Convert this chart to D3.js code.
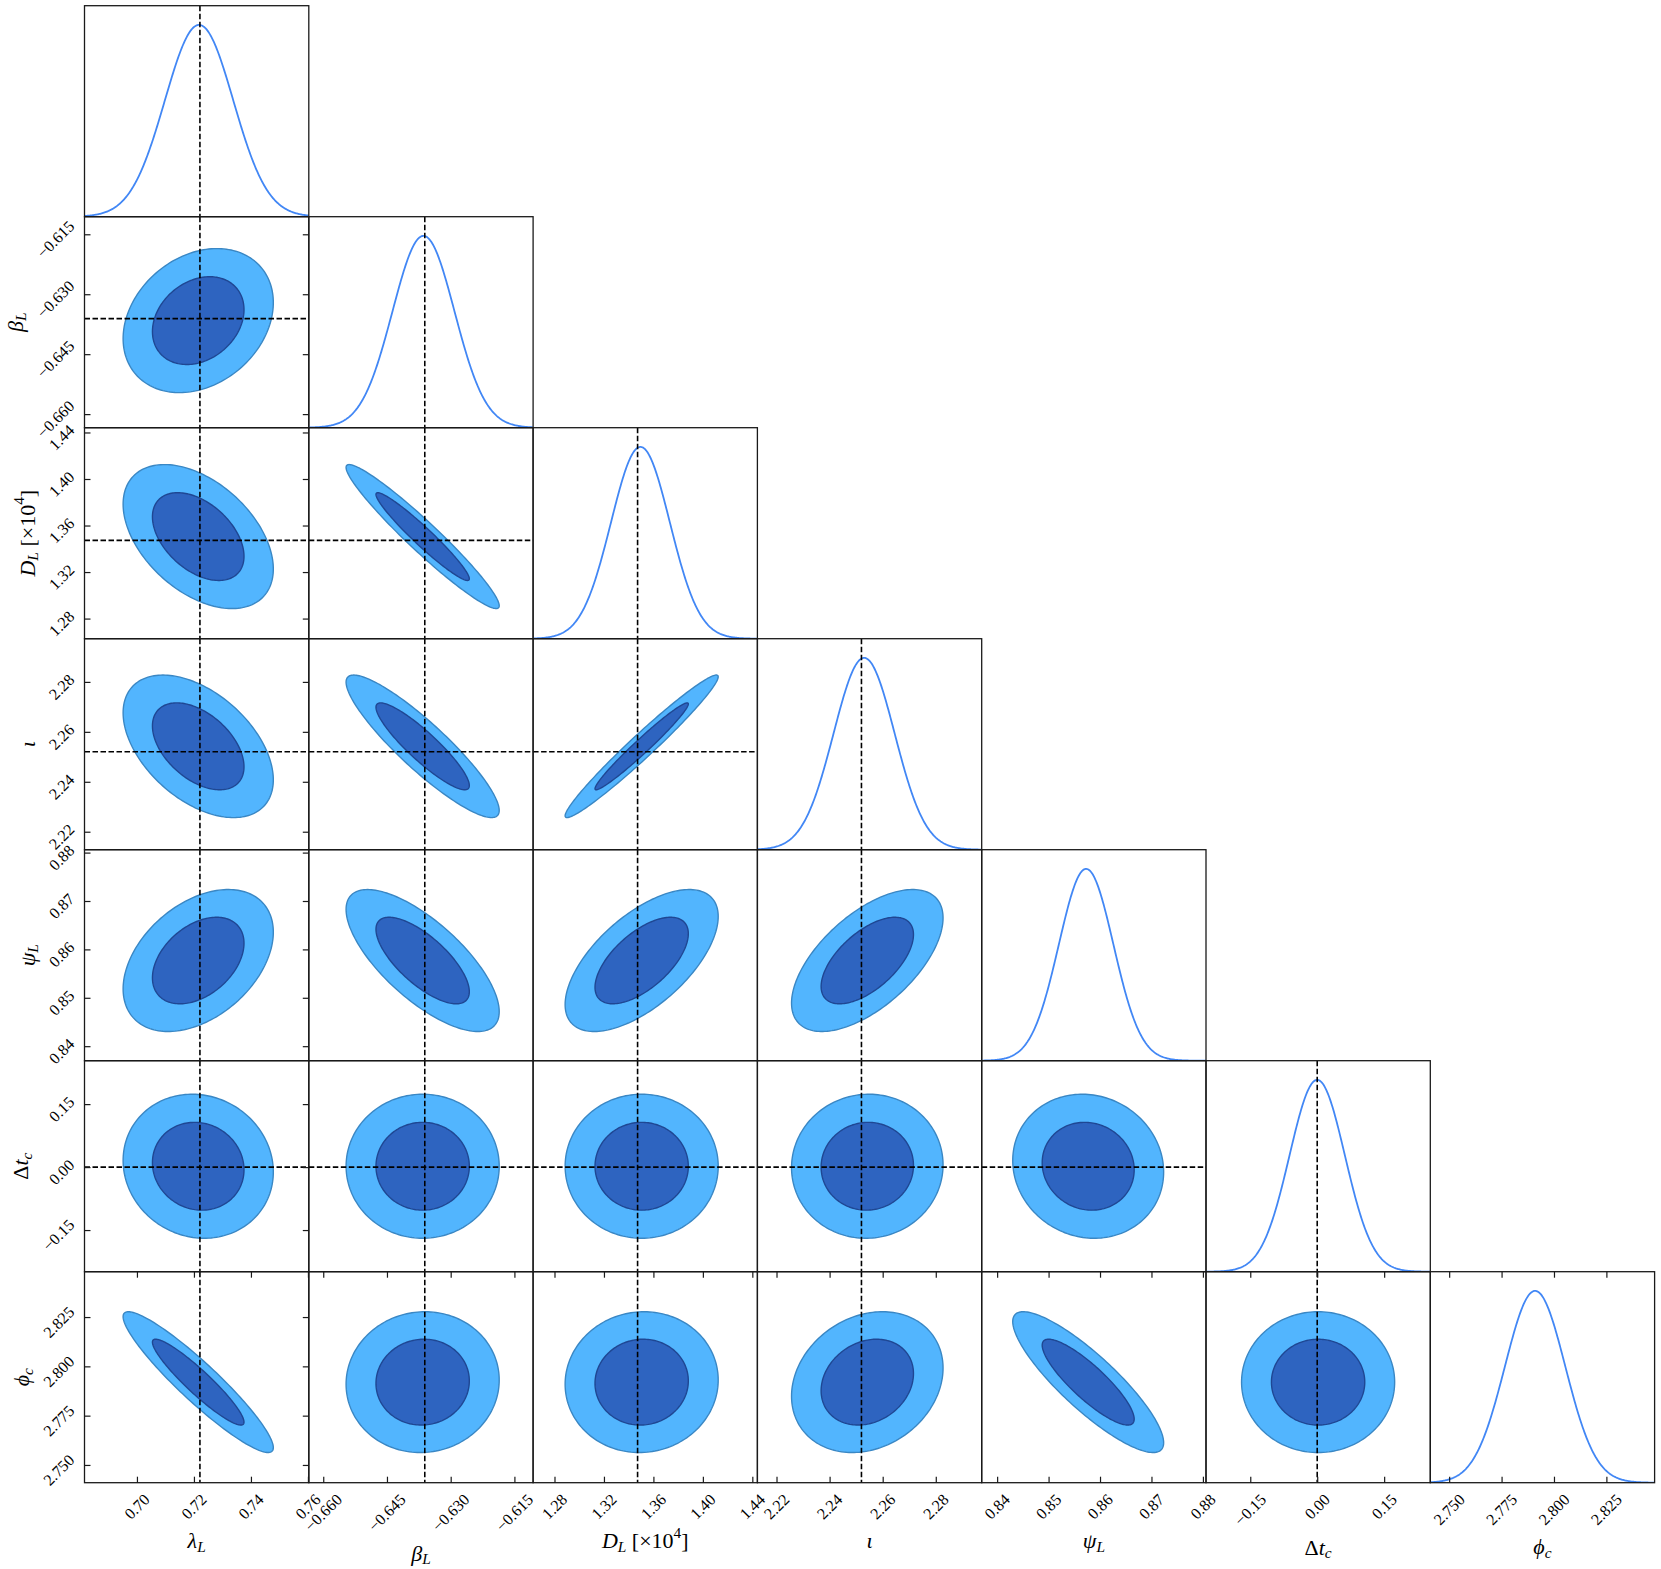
<!DOCTYPE html>
<html lang="en">
<head>
<meta charset="UTF-8" />
<title>Corner plot</title>
<script src="https://cdnjs.cloudflare.com/ajax/libs/d3/7.8.5/d3.min.js"></script>
<style>
  body { margin: 0; background: #fff; }
  text { font-family: "Liberation Serif", "DejaVu Serif", serif; fill: #000; }
</style>
</head>
<body>
<div id="corner"></div>
<script>
// parameter summaries
var paramNames = ['lambda_L', 'beta_L', 'D_L', 'iota', 'psi_L', 'dt_c', 'phi_c'];
var means = [0.7215, -0.6366, 1.3505, 2.2542, 0.8577, 0.002, 2.7920];
var peaks = [0.7218, -0.6364, 1.3495, 2.2530, 0.8573, 0.000, 2.7910];
var contourSd = [0.0106, 0.00725, 0.0249, 0.01148, 0.0059, 0.069, 0.01436];
var marginalSd = [0.0120, 0.0073, 0.0238, 0.0115, 0.0053, 0.062, 0.0144];
// correlation of row parameter i with column parameter j (j < i)
var corr = [
    [],
    [0.25],
    [-0.45, -0.96],
    [-0.47, -0.90, 0.975],
    [0.40, -0.72, 0.62, 0.60],
    [-0.08, 0.0, 0.0, 0.02, -0.08],
    [-0.93, 0.03, 0.03, 0.20, -0.86, 0.0]
];
var truths = [0.7221, -0.6361, 1.3472, 2.2520, null, 0.0, null];
var domains = [
    [0.6816, 0.7603], [-0.6634, -0.6106], [1.2627, 1.4441], [2.2128, 2.2973],
    [0.8370, 0.8806], [-0.2492, 0.2534], [2.7410, 2.8480]
];
var tickValues = [
    [0.70, 0.72, 0.74, 0.76],
    [-0.660, -0.645, -0.630, -0.615],
    [1.28, 1.32, 1.36, 1.40, 1.44],
    [2.22, 2.24, 2.26, 2.28],
    [0.84, 0.85, 0.86, 0.87, 0.88],
    [-0.15, 0.00, 0.15],
    [2.750, 2.775, 2.800, 2.825]
];
var tickDecimals = [2, 3, 2, 2, 2, 2, 3];
var levels = [0.9545, 0.6827];
// [text, italic, shift]
var axisLabels = [
    [['λ', 1, ''], ['L', 1, 'sub']],
    [['β', 1, ''], ['L', 1, 'sub']],
    [['D', 1, ''], ['L', 1, 'sub'], [' [×10', 0, ''], ['4', 0, 'sup'], [']', 0, '']],
    [['ι', 1, '']],
    [['ψ', 1, ''], ['L', 1, 'sub']],
    [['Δ', 0, ''], ['t', 1, ''], ['c', 1, 'sub']],
    [['ϕ', 1, ''], ['c', 1, 'sub']]
];

var n = paramNames.length;
var left0 = 84.5, top0 = 5.7, cellW = 224.3, cellH = 211.0;
var tickFont = 16, tickH = 0.7 * tickFont, labelFont = 22;

var svg = d3.select('#corner').append('svg')
    .attr('width', 1661)
    .attr('height', 1569);
var defs = svg.append('defs');

function cellX(j) { return left0 + j * cellW; }
function cellY(i) { return top0 + i * cellH; }

var xScales = domains.map(function (d, j) {
    return d3.scaleLinear().domain(d).range([cellX(j), cellX(j) + cellW]);
});
var yScales = domains.map(function (d, i) {
    return d3.scaleLinear().domain(d).range([cellY(i) + cellH, cellY(i)]);
});

var line = d3.line();
var closedLine = d3.line().curve(d3.curveLinearClosed);

function ellipse(i, j, level) {
    var r = Math.sqrt(-2 * Math.log(1 - level));
    var rho = corr[i][j];
    var sx = contourSd[j], sy = contourSd[i];
    var c = Math.sqrt(1 - rho * rho);
    return d3.range(0, 2 * Math.PI, Math.PI / 90).map(function (t) {
        var u = Math.cos(t), v = Math.sin(t);
        return [
            xScales[j](means[j] + sx * r * u),
            yScales[i](means[i] + sy * r * (rho * u + c * v))
        ];
    });
}

for (var i = 0; i < n; i++) {
    for (var j = 0; j <= i; j++) {
        var g = svg.append('g').attr('class', 'panel');
        var clipId = 'clip-' + i + '-' + j;
        defs.append('clipPath').attr('id', clipId)
            .append('rect')
            .attr('x', cellX(j)).attr('y', cellY(i))
            .attr('width', cellW).attr('height', cellH);
        var body = g.append('g').attr('clip-path', 'url(#' + clipId + ')');

        if (i === j) {
            var dens = d3.scaleLinear().domain([0, 1.1]).range([cellY(i) + cellH, cellY(i)]);
            var dom = domains[i];
            var pts = d3.range(0, 301).map(function (k) {
                var x = dom[0] + (dom[1] - dom[0]) * k / 300;
                var z = (x - peaks[i]) / marginalSd[i];
                return [xScales[i](x), dens(Math.exp(-0.5 * z * z))];
            });
            body.append('path')
                .attr('d', line(pts))
                .attr('fill', 'none')
                .attr('stroke', '#4287f5')
                .attr('stroke-width', 1.8);
        } else {
            body.append('path')
                .attr('d', closedLine(ellipse(i, j, levels[0])))
                .attr('fill', '#52b5fe')
                .attr('stroke', '#3a87c4')
                .attr('stroke-width', 1.4);
            body.append('path')
                .attr('d', closedLine(ellipse(i, j, levels[1])))
                .attr('fill', '#2e64c0')
                .attr('stroke', '#1f4793')
                .attr('stroke-width', 1.4);
        }

        // truth lines
        if (truths[j] !== null) {
            body.append('line')
                .attr('x1', xScales[j](truths[j])).attr('x2', xScales[j](truths[j]))
                .attr('y1', cellY(i)).attr('y2', cellY(i) + cellH)
                .attr('stroke', '#000').attr('stroke-width', 1.6)
                .attr('stroke-dasharray', '5.5,2.5');
        }
        if (i !== j && truths[i] !== null) {
            body.append('line')
                .attr('x1', cellX(j)).attr('x2', cellX(j) + cellW)
                .attr('y1', yScales[i](truths[i])).attr('y2', yScales[i](truths[i]))
                .attr('stroke', '#000').attr('stroke-width', 1.6)
                .attr('stroke-dasharray', '5.5,2.5');
        }

        g.append('rect')
            .attr('x', cellX(j)).attr('y', cellY(i))
            .attr('width', cellW).attr('height', cellH)
            .attr('fill', 'none')
            .attr('stroke', '#1a1a1a')
            .attr('stroke-width', 1.3);
    }
}

function fmt(v, dec) {
    var s = Math.abs(v) < 1e-12 ? (0).toFixed(dec) : v.toFixed(dec);
    return s.replace('-', '\u2212');
}

function styleAxis(sel) {
    sel.select('.domain').remove();
    sel.selectAll('line').attr('stroke', '#1a1a1a').attr('stroke-width', 1.2);
    sel.selectAll('text').remove();
}

// inward ticks: left column (y) and bottom row (x), on both sides
for (var r = 1; r < n; r++) {
    svg.append('g').attr('transform', 'translate(' + cellX(0) + ',0)')
        .call(d3.axisRight(yScales[r]).tickValues(tickValues[r]).tickSize(6).tickFormat(''))
        .call(styleAxis);
    svg.append('g').attr('transform', 'translate(' + (cellX(0) + cellW) + ',0)')
        .call(d3.axisLeft(yScales[r]).tickValues(tickValues[r]).tickSize(6).tickFormat(''))
        .call(styleAxis);
}
var bottomY = cellY(n - 1) + cellH;
for (var c = 0; c < n; c++) {
    svg.append('g').attr('transform', 'translate(0,' + bottomY + ')')
        .call(d3.axisTop(xScales[c]).tickValues(tickValues[c]).tickSize(6).tickFormat(''))
        .call(styleAxis);
    svg.append('g').attr('transform', 'translate(0,' + cellY(n - 1) + ')')
        .call(d3.axisBottom(xScales[c]).tickValues(tickValues[c]).tickSize(6).tickFormat(''))
        .call(styleAxis);
}

// rotated tick labels
var labelLayer = svg.append('g').attr('font-size', tickFont);
var colExtent = [], rowExtent = [];

for (var c2 = 0; c2 < n; c2++) {
    var maxHalf = 0;
    tickValues[c2].forEach(function (v) {
        var t = labelLayer.append('text')
            .attr('text-anchor', 'middle')
            .attr('dominant-baseline', 'central')
            .text(fmt(v, tickDecimals[c2]));
        var half = 0.354 * (t.node().getComputedTextLength() + tickH);
        maxHalf = Math.max(maxHalf, half);
        t.attr('transform', 'translate(' + xScales[c2](v) + ',' + (bottomY + 10 + half) + ') rotate(-45)');
    });
    colExtent.push(bottomY + 10 + 2 * maxHalf);
}

for (var r2 = 1; r2 < n; r2++) {
    var minLeft = cellX(0);
    tickValues[r2].forEach(function (v) {
        var t = labelLayer.append('text')
            .attr('text-anchor', 'middle')
            .attr('dominant-baseline', 'central')
            .text(fmt(v, tickDecimals[r2]));
        var half = 0.354 * (t.node().getComputedTextLength() + tickH);
        var cx = cellX(0) - 9 - half;
        minLeft = Math.min(minLeft, cx - half);
        t.attr('transform', 'translate(' + cx + ',' + (yScales[r2](v) + 5) + ') rotate(-45)');
    });
    rowExtent[r2] = minLeft;
}

function writeLabel(textSel, segs) {
    var level = 0;
    segs.forEach(function (s) {
        var target = s[2] === 'sub' ? 0.25 * labelFont : (s[2] === 'sup' ? -0.4 * labelFont : 0);
        var ts = textSel.append('tspan').text(s[0]);
        if (target - level !== 0) ts.attr('dy', target - level);
        if (s[1]) ts.attr('font-style', 'italic');
        if (s[2]) ts.attr('font-size', labelFont * 0.7);
        level = target;
    });
}

// axis labels
for (var c3 = 0; c3 < n; c3++) {
    var tx = svg.append('text')
        .attr('font-size', labelFont)
        .attr('text-anchor', 'middle')
        .attr('dominant-baseline', 'central')
        .attr('transform', 'translate(' + (cellX(c3) + cellW / 2) + ',' + (colExtent[c3] + 20) + ')');
    writeLabel(tx, axisLabels[c3]);
}
for (var r3 = 1; r3 < n; r3++) {
    var ty = svg.append('text')
        .attr('font-size', labelFont)
        .attr('text-anchor', 'middle')
        .attr('dominant-baseline', 'central')
        .attr('transform', 'translate(' + (rowExtent[r3] - 21) + ',' + (cellY(r3) + cellH / 2) + ') rotate(-90)');
    writeLabel(ty, axisLabels[r3]);
}
</script>
</body>
</html>
